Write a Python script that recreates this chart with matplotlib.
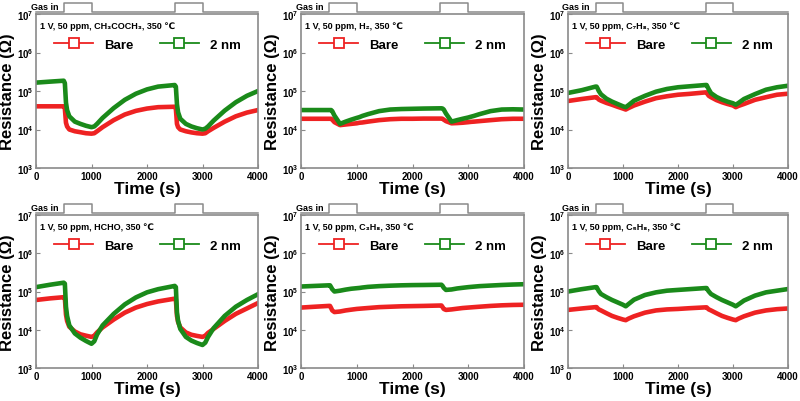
import matplotlib
matplotlib.use("Agg")
import matplotlib.pyplot as plt
import matplotlib.transforms as mtransforms
from matplotlib.lines import Line2D

plt.rcParams["font.family"] = ["Liberation Sans", "DejaVu Sans"]
plt.rcParams["font.weight"] = "bold"
plt.rcParams["axes.labelweight"] = "bold"
plt.rcParams["mathtext.fontset"] = "custom"
plt.rcParams["mathtext.rm"] = "Liberation Sans:bold"
plt.rcParams["mathtext.it"] = "Liberation Sans:bold"
plt.rcParams["mathtext.bf"] = "Liberation Sans:bold"

# -----------------------
# Dados
# -----------------------
tempo = [0, 250, 500, 520, 540, 560, 600, 700, 800, 900, 1000, 1050, 1100, 1200,
         1400, 1600, 1800, 2000, 2200, 2500, 2520, 2540, 2560, 2600, 2700, 2800,
         2900, 3000, 3050, 3100, 3200, 3400, 3600, 3800, 4000]

gas_t = [0, 500, 500, 1000, 1000, 2500, 2500, 3000, 3000, 4000]
gas_on = [0, 0, 1, 1, 0, 0, 1, 1, 0, 0]

titulos = [
    "1 V, 50 ppm, CH\u2083COCH\u2083, 350 \u2103",
    "1 V, 50 ppm, H\u2082, 350 \u2103",
    "1 V, 50 ppm, C\u2087H\u2088, 350 \u2103",
    "1 V, 50 ppm, HCHO, 350 \u2103",
    "1 V, 50 ppm, C\u2083H\u2088, 350 \u2103",
    "1 V, 50 ppm, C\u2085H\u2088, 350 \u2103",
]

acetona_bare = [4e4, 4e4, 4e4, 3.5e4, 1.5e4, 1.2e4, 1.0e4, 9e3, 8.5e3, 8e3, 7.8e3, 8e3, 9e3, 1.15e4,
                1.75e4, 2.45e4, 3.05e4, 3.5e4, 3.8e4, 3.9e4, 3.5e4, 1.4e4, 1.15e4, 1.0e4, 9e3, 8.4e3,
                8e3, 7.8e3, 8e3, 9e3, 1.1e4, 1.6e4, 2.2e4, 2.75e4, 3.2e4]
acetona_2nm = [1.65e5, 1.75e5, 1.85e5, 1.6e5, 5e4, 3.2e4, 2.2e4, 1.6e4, 1.4e4, 1.25e4, 1.15e4, 1.2e4, 1.4e4, 2e4,
               3.6e4, 5.9e4, 8.5e4, 1.1e5, 1.3e5, 1.43e5, 1.3e5, 4.5e4, 2.8e4, 1.9e4, 1.4e4, 1.2e4,
               1.08e4, 1.0e4, 1.05e4, 1.2e4, 1.7e4, 3.1e4, 5.1e4, 7.5e4, 1.0e5]

h2_bare = [1.9e4, 1.9e4, 1.9e4, 1.9e4, 1.9e4, 1.8e4, 1.55e4, 1.3e4, 1.35e4, 1.4e4, 1.45e4, 1.5e4, 1.52e4, 1.6e4,
           1.75e4, 1.85e4, 1.9e4, 1.9e4, 1.92e4, 1.92e4, 1.92e4, 1.9e4, 1.8e4, 1.65e4, 1.45e4, 1.47e4,
           1.5e4, 1.55e4, 1.58e4, 1.6e4, 1.65e4, 1.75e4, 1.85e4, 1.9e4, 1.9e4]
h2_2nm = [3.2e4, 3.2e4, 3.2e4, 3.2e4, 3.2e4, 3.0e4, 2.3e4, 1.4e4, 1.6e4, 1.8e4, 2.0e4, 2.1e4, 2.25e4, 2.5e4,
          3.0e4, 3.3e4, 3.4e4, 3.45e4, 3.5e4, 3.55e4, 3.55e4, 3.5e4, 3.3e4, 2.6e4, 1.6e4, 1.75e4,
          1.9e4, 2.05e4, 2.15e4, 2.25e4, 2.5e4, 3.0e4, 3.3e4, 3.35e4, 3.3e4]

tolueno_bare = [5.5e4, 6.2e4, 6.9e4, 6.9e4, 6.4e4, 6e4, 5.6e4, 4.9e4, 4.4e4, 3.9e4, 3.5e4, 3.3e4, 3.6e4, 4.2e4,
                5.3e4, 6.5e4, 7.3e4, 8e4, 8.4e4, 9.2e4, 9.2e4, 8.2e4, 7.5e4, 6.9e4, 5.8e4, 5.1e4,
                4.6e4, 4.2e4, 3.8e4, 4.1e4, 4.6e4, 5.9e4, 6.9e4, 8e4, 8.5e4]
tolueno_2nm = [8.9e4, 1.05e5, 1.3e5, 1.3e5, 1.15e5, 1.0e5, 8.2e4, 6.3e4, 5.3e4, 4.6e4, 4.0e4, 3.8e4, 4.3e4, 5.6e4,
               7.5e4, 9.6e4, 1.13e5, 1.25e5, 1.32e5, 1.43e5, 1.43e5, 1.25e5, 1.1e5, 8.8e4, 7e4, 6e4,
               5.3e4, 4.8e4, 4.4e4, 4.9e4, 6.2e4, 8.3e4, 1.08e5, 1.25e5, 1.37e5]

hcho_bare = [6e4, 6.6e4, 7.1e4, 6.8e4, 2.5e4, 1.7e4, 1.2e4, 9e3, 7.6e3, 7e3, 6.5e3, 7e3, 8.5e3, 1.15e4,
             1.85e4, 2.8e4, 3.8e4, 4.7e4, 5.5e4, 6.5e4, 6.2e4, 2.3e4, 1.6e4, 1.15e4, 8.5e3, 7.4e3,
             6.9e3, 6.5e3, 7e3, 8.3e3, 1.05e4, 1.7e4, 2.6e4, 3.6e4, 5e4]
hcho_2nm = [1.3e5, 1.5e5, 1.7e5, 1.6e5, 4e4, 2.3e4, 1.3e4, 8e3, 6.2e3, 5.1e3, 4.3e3, 5e3, 7.5e3, 1.3e4,
            2.6e4, 4.6e4, 7e4, 9.5e4, 1.15e5, 1.4e5, 1.3e5, 2.8e4, 1.7e4, 1.05e4, 6.5e3, 5.2e3,
            4.5e3, 4e3, 4.6e3, 6.5e3, 1.1e4, 2.3e4, 4e4, 6e4, 8.5e4]

propano_bare = [3.8e4, 4e4, 4.2e4, 4.2e4, 3.7e4, 3.2e4, 2.9e4, 3.0e4, 3.2e4, 3.35e4, 3.5e4, 3.55e4, 3.6e4, 3.7e4,
                3.9e4, 4.0e4, 4.1e4, 4.15e4, 4.2e4, 4.3e4, 4.3e4, 3.9e4, 3.5e4, 3.3e4, 3.4e4, 3.55e4,
                3.7e4, 3.8e4, 3.85e4, 3.9e4, 4.0e4, 4.2e4, 4.35e4, 4.45e4, 4.5e4]
propano_2nm = [1.35e5, 1.4e5, 1.45e5, 1.45e5, 1.3e5, 1.15e5, 1.0e5, 1.05e5, 1.12e5, 1.18e5, 1.22e5, 1.24e5, 1.27e5, 1.32e5,
               1.38e5, 1.42e5, 1.45e5, 1.47e5, 1.48e5, 1.5e5, 1.5e5, 1.4e5, 1.25e5, 1.1e5, 1.13e5, 1.2e5,
               1.25e5, 1.3e5, 1.32e5, 1.34e5, 1.38e5, 1.43e5, 1.48e5, 1.52e5, 1.55e5]

isopreno_bare = [3.3e4, 3.6e4, 3.9e4, 3.9e4, 3.6e4, 3.4e4, 3.2e4, 2.7e4, 2.3e4, 2.05e4, 1.85e4, 1.78e4, 1.95e4, 2.25e4,
                 2.8e4, 3.2e4, 3.4e4, 3.5e4, 3.65e4, 3.85e4, 3.85e4, 3.6e4, 3.4e4, 3.2e4, 2.7e4, 2.3e4,
                 2.05e4, 1.85e4, 1.78e4, 1.95e4, 2.25e4, 2.8e4, 3.2e4, 3.45e4, 3.6e4]
isopreno_2nm = [1e5, 1.15e5, 1.3e5, 1.3e5, 1.15e5, 1.02e5, 8.6e4, 7.1e4, 6e4, 5.2e4, 4.5e4, 4.1e4, 4.7e4, 6.1e4,
                8.1e4, 9.5e4, 1.05e5, 1.1e5, 1.15e5, 1.23e5, 1.23e5, 1.1e5, 1.0e5, 8.6e4, 7.1e4, 6e4,
                5.2e4, 4.5e4, 4.1e4, 4.6e4, 5.8e4, 7.8e4, 9.5e4, 1.05e5, 1.16e5]

series_bare = [acetona_bare, h2_bare, tolueno_bare, hcho_bare, propano_bare, isopreno_bare]
series_2nm = [acetona_2nm, h2_2nm, tolueno_2nm, hcho_2nm, propano_2nm, isopreno_2nm]

VERMELHO = "#ee2222"
VERDE = "#1a8a1a"
CINZA = "#8a8a8a"

# posicoes dos eixos em pixels (esquerda, direita) e (topo, base)
colunas = [(36, 258), (301, 524), (568, 788)]
linhas = [(15, 169), (216, 369)]

fig = plt.figure(figsize=(8, 4.02), dpi=100)

for i in range(6):
    x0, x1 = colunas[i % 3]
    y0, y1 = linhas[i // 3]
    ax = fig.add_axes([x0 / 800, 1 - y1 / 402, (x1 - x0) / 800, (y1 - y0) / 402])

    ax.plot(tempo, series_bare[i], color=VERMELHO, lw=3.3, solid_joinstyle="round")
    ax.plot(tempo, series_2nm[i], color=VERDE, lw=3.3, solid_joinstyle="round")

    ax.set_yscale("log")
    ax.set_xlim(0, 4000)
    ax.set_ylim(1e3, 1e7)
    ax.set_xticks([0, 1000, 2000, 3000, 4000])
    ax.set_xticklabels(["0", "1000", "2000", "3000", "4000"], fontsize=7)
    ax.set_yticks([1e3, 1e4, 1e5, 1e6, 1e7])
    ax.set_yticklabels([r"$10^{3}$", r"$10^{4}$", r"$10^{5}$", r"$10^{6}$", r"$10^{7}$"], fontsize=7)
    ax.minorticks_off()
    ax.tick_params(direction="in", length=3, color=CINZA, width=0.8, pad=2)

    for sp in ax.spines.values():
        sp.set_color(CINZA)
        sp.set_linewidth(1.2)

    ax.set_xlabel("Time (s)", fontsize=12.5, labelpad=0)
    ax.set_ylabel("Resistance (\u03a9)", fontsize=12, labelpad=1)

    ax.text(0.02, 0.955, titulos[i], transform=ax.transAxes, fontsize=6.5,
            ha="left", va="top")

    # linha "Gas in" acima do grafico
    trans = mtransforms.blended_transform_factory(ax.transData, ax.transAxes)
    gas_y = [1.013 + 0.058 * g for g in gas_on]
    ax.plot(gas_t, gas_y, color=CINZA, lw=1.1, transform=trans, clip_on=False)
    ax.text(400, 1.02, "Gas in", transform=trans, fontsize=6.5, ha="right", va="bottom")

    handles = [
        Line2D([], [], color=VERMELHO, lw=1.3, marker="s", markersize=7,
               markerfacecolor="white", markeredgecolor=VERMELHO, markeredgewidth=1.3),
        Line2D([], [], color=VERDE, lw=1.3, marker="s", markersize=7,
               markerfacecolor="white", markeredgecolor=VERDE, markeredgewidth=1.3),
    ]
    ax.legend(handles, ["Bare", "2 nm"], loc="center left", bbox_to_anchor=(0.08, 0.80),
              ncol=2, frameon=False, fontsize=9.5, handlelength=3.0, handletextpad=0.8,
              columnspacing=2.0, borderpad=0, borderaxespad=0)

fig.savefig("out.png", dpi=100)
